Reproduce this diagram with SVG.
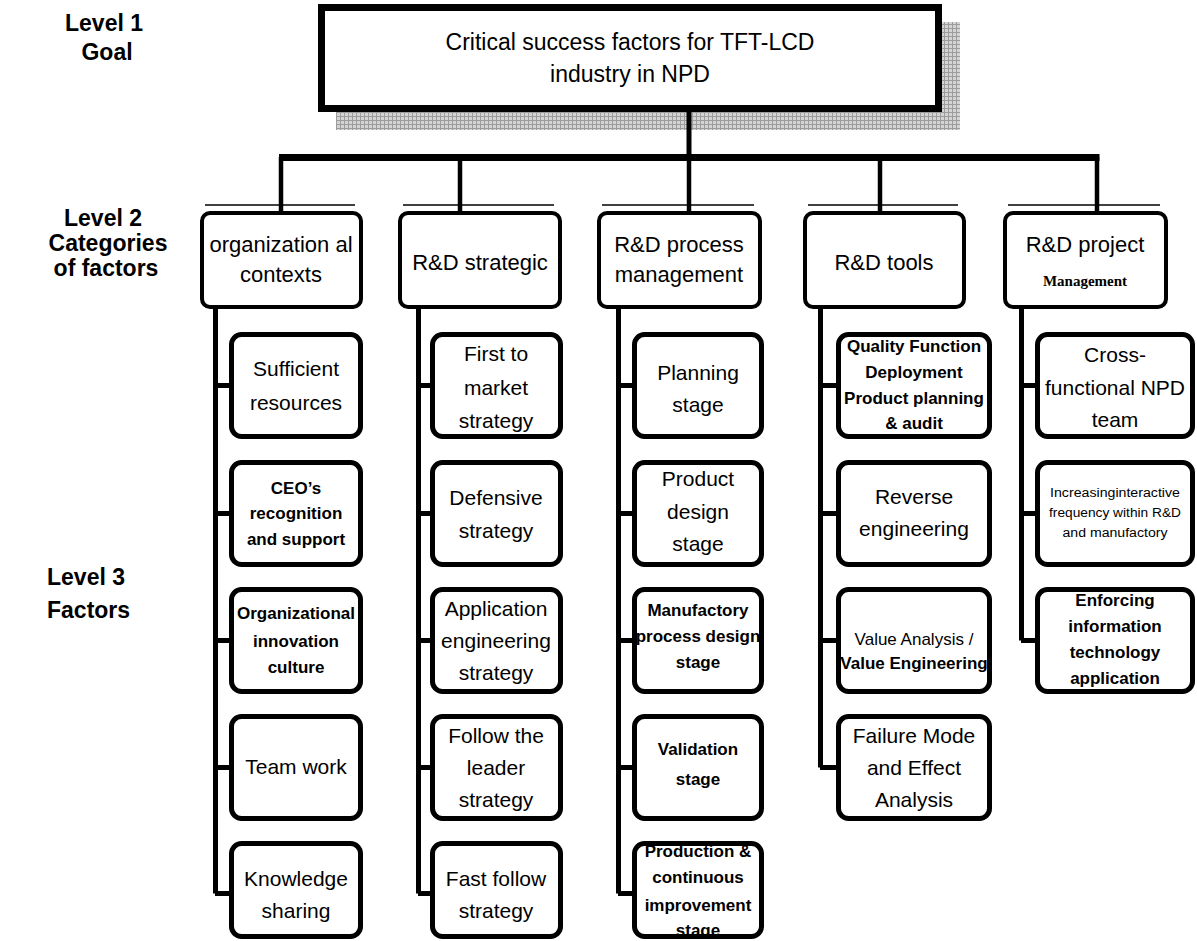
<svg xmlns="http://www.w3.org/2000/svg" width="1197" height="941" viewBox="0 0 1197 941">
<defs>
<pattern id="grid" width="4" height="4" patternUnits="userSpaceOnUse"><rect width="4" height="4" fill="#d4d4d4"/><path d="M0 0.5H4M0.5 0V4" stroke="#9c9c9c" stroke-width="1"/></pattern>
<style>
text{font-family:"Liberation Sans",Arial,sans-serif;fill:#000;text-anchor:middle}
.lbl{font-weight:bold;font-size:23px}
.goal{font-size:23px}
.l2{font-size:22px}
.l3{font-size:21px}
.sm{font-size:17px;font-weight:bold}
.tiny{font-size:12px}
.mg{font-family:"Liberation Serif","Times New Roman",serif;font-weight:bold;font-size:15px}
.b2{fill:#fff;stroke:#000;stroke-width:4}
.b3{fill:#fff;stroke:#000;stroke-width:5}
.thin{stroke:#000;stroke-width:1.3}
.cn{stroke:#000;fill:none}
</style>
</defs>
<rect width="1197" height="941" fill="#fff"/>

<g id="labels">
<text class="lbl" x="104" y="31">Level 1</text>
<text class="lbl" x="107" y="60">Goal</text>
<text class="lbl" x="103" y="226">Level 2</text>
<text class="lbl" x="108" y="251">Categories</text>
<text class="lbl" x="106" y="276">of factors</text>
<text class="lbl" x="47" y="585" style="text-anchor:start">Level 3</text>
<text class="lbl" x="47" y="618" style="text-anchor:start">Factors</text>
</g>

<g id="goal">
<rect x="336" y="22" width="624" height="108" fill="url(#grid)"/>
<rect x="321.5" y="7.5" width="617" height="101" fill="#fff" stroke="#000" stroke-width="7"/>
<text class="goal" x="630" y="50">Critical success factors for TFT-LCD</text>
<text class="goal" x="630" y="82">industry in NPD</text>
</g>

<g id="connectors">
<line class="cn" x1="689" y1="112" x2="689" y2="157" stroke-width="5"/>
<line class="cn" x1="279" y1="157.5" x2="1099.5" y2="157.5" stroke-width="7"/>
<line class="cn" x1="281" y1="157" x2="281" y2="211" stroke-width="4.5"/>
<line class="cn" x1="460" y1="157" x2="460" y2="211" stroke-width="4.5"/>
<line class="cn" x1="689" y1="157" x2="689" y2="211" stroke-width="4.5"/>
<line class="cn" x1="880" y1="157" x2="880" y2="211" stroke-width="4.5"/>
<line class="cn" x1="1097" y1="157" x2="1097" y2="211" stroke-width="4.5"/>
<path class="cn" stroke-width="5" d="M215.5 309V893.5M215 385.5H231M215 513.5H231M215 640.5H231M215 767.5H231M215 893.5H231"/>
<path class="cn" stroke-width="5" d="M418.5 309V893.5M418 385.5H432M418 513.5H432M418 640.5H432M418 767.5H432M418 893.5H432"/>
<path class="cn" stroke-width="5" d="M618.5 309V893.5M618 385.5H634M618 513.5H634M618 640.5H634M618 767.5H634M618 893.5H634"/>
<path class="cn" stroke-width="5" d="M820.5 309V767.5M820 385.5H838M820 513.5H838M820 640.5H838M820 767.5H838"/>
<path class="cn" stroke-width="5" d="M1021.5 309V640.5M1021 385.5H1037M1021 513.5H1037M1021 640.5H1037"/>
</g>

<g id="cat1">
<line class="thin" x1="205" y1="205" x2="355" y2="205"/>
<rect class="b2" x="202" y="213" width="159" height="94" rx="8"/>
<text class="l2" x="281" y="252">organization al</text>
<text class="l2" x="281" y="282">contexts</text>
</g>
<g id="cat2">
<line class="thin" x1="403" y1="205" x2="554" y2="205"/>
<rect class="b2" x="400" y="213" width="160" height="94" rx="8"/>
<text class="l2" x="480" y="270">R&amp;D strategic</text>
</g>
<g id="cat3">
<line class="thin" x1="602" y1="205" x2="754" y2="205"/>
<rect class="b2" x="599" y="213" width="161" height="94" rx="8"/>
<text class="l2" x="679" y="252">R&amp;D process</text>
<text class="l2" x="679" y="282">management</text>
</g>
<g id="cat4">
<line class="thin" x1="808" y1="205" x2="958" y2="205"/>
<rect class="b2" x="805" y="213" width="159" height="94" rx="8"/>
<text class="l2" x="884" y="270">R&amp;D tools</text>
</g>
<g id="cat5">
<line class="thin" x1="1008" y1="205" x2="1160" y2="205"/>
<rect class="b2" x="1005" y="213" width="161" height="94" rx="8"/>
<text class="l2" x="1085" y="252">R&amp;D project</text>
<text class="mg" x="1085" y="286">Management</text>
</g>

<!-- column 1 -->
<g id="f1-1"><rect class="b3" x="231.5" y="334.5" width="129" height="102" rx="10"/>
<text class="l3" x="296" y="376">Sufficient</text><text class="l3" x="296" y="410">resources</text></g>
<g id="f1-2"><rect class="b3" x="231.5" y="462.5" width="129" height="102" rx="10"/>
<text class="sm" x="296" y="494">CEO’s</text><text class="sm" x="296" y="519">recognition</text><text class="sm" x="296" y="545">and support</text></g>
<g id="f1-3"><rect class="b3" x="231.5" y="589.5" width="129" height="102" rx="10"/>
<text class="sm" x="296" y="619">Organizational</text><text class="sm" x="296" y="647">innovation</text><text class="sm" x="296" y="673">culture</text></g>
<g id="f1-4"><rect class="b3" x="231.5" y="716.5" width="129" height="102" rx="10"/>
<text class="l3" x="296" y="774">Team work</text></g>
<g id="f1-5"><rect class="b3" x="231.5" y="843.5" width="129" height="93" rx="10"/>
<text class="l3" x="296" y="886">Knowledge</text><text class="l3" x="296" y="918">sharing</text></g>

<!-- column 2 -->
<g id="f2-1"><rect class="b3" x="432.5" y="334.5" width="128" height="102" rx="10"/>
<text class="l3" x="496" y="361">First to</text><text class="l3" x="496" y="395">market</text><text class="l3" x="496" y="428">strategy</text></g>
<g id="f2-2"><rect class="b3" x="432.5" y="462.5" width="128" height="102" rx="10"/>
<text class="l3" x="496" y="505">Defensive</text><text class="l3" x="496" y="538">strategy</text></g>
<g id="f2-3"><rect class="b3" x="432.5" y="589.5" width="128" height="102" rx="10"/>
<text class="l3" x="496" y="616">Application</text><text class="l3" x="496" y="648">engineering</text><text class="l3" x="496" y="680">strategy</text></g>
<g id="f2-4"><rect class="b3" x="432.5" y="716.5" width="128" height="102" rx="10"/>
<text class="l3" x="496" y="743">Follow the</text><text class="l3" x="496" y="775">leader</text><text class="l3" x="496" y="807">strategy</text></g>
<g id="f2-5"><rect class="b3" x="432.5" y="843.5" width="128" height="93" rx="10"/>
<text class="l3" x="496" y="886">Fast follow</text><text class="l3" x="496" y="918">strategy</text></g>

<!-- column 3 -->
<g id="f3-1"><rect class="b3" x="634.5" y="334.5" width="127" height="102" rx="10"/>
<text class="l3" x="698" y="380">Planning</text><text class="l3" x="698" y="412">stage</text></g>
<g id="f3-2"><rect class="b3" x="634.5" y="462.5" width="127" height="102" rx="10"/>
<text class="l3" x="698" y="486">Product</text><text class="l3" x="698" y="519">design</text><text class="l3" x="698" y="551">stage</text></g>
<g id="f3-3"><rect class="b3" x="634.5" y="589.5" width="127" height="102" rx="10"/>
<text class="sm" x="698" y="616">Manufactory</text><text class="sm" x="698" y="642">process design</text><text class="sm" x="698" y="668">stage</text></g>
<g id="f3-4"><rect class="b3" x="634.5" y="716.5" width="127" height="102" rx="10"/>
<text class="sm" x="698" y="755">Validation</text><text class="sm" x="698" y="785">stage</text></g>
<g id="f3-5"><rect class="b3" x="634.5" y="843.5" width="127" height="93" rx="10"/>
<text class="sm" x="698" y="857">Production &amp;</text><text class="sm" x="698" y="883">continuous</text><text class="sm" x="698" y="911">improvement</text><text class="sm" x="698" y="936">stage</text></g>

<!-- column 4 -->
<g id="f4-1"><rect class="b3" x="838.5" y="334.5" width="151" height="102" rx="10"/>
<text class="sm" x="914" y="352">Quality Function</text><text class="sm" x="914" y="378">Deployment</text><text class="sm" x="914" y="404">Product planning</text><text class="sm" x="914" y="429">&amp; audit</text></g>
<g id="f4-2"><rect class="b3" x="838.5" y="462.5" width="151" height="102" rx="10"/>
<text class="l3" x="914" y="504">Reverse</text><text class="l3" x="914" y="536">engineering</text></g>
<g id="f4-3"><rect class="b3" x="838.5" y="589.5" width="151" height="102" rx="10"/>
<text class="sm" x="914" y="645" style="font-weight:normal">Value Analysis /</text><text class="sm" x="914" y="669">Value Engineering</text></g>
<g id="f4-4"><rect class="b3" x="838.5" y="716.5" width="151" height="102" rx="10"/>
<text class="l3" x="914" y="743">Failure Mode</text><text class="l3" x="914" y="775">and Effect</text><text class="l3" x="914" y="807">Analysis</text></g>

<!-- column 5 -->
<g id="f5-1"><rect class="b3" x="1037.5" y="334.5" width="155" height="102" rx="10"/>
<text class="l3" x="1115" y="362">Cross-</text><text class="l3" x="1115" y="395">functional NPD</text><text class="l3" x="1115" y="427">team</text></g>
<g id="f5-2"><rect class="b3" x="1037.5" y="462.5" width="155" height="102" rx="10"/>
<text class="tiny" x="1115" y="497" textLength="130" lengthAdjust="spacingAndGlyphs">Increasinginteractive</text><text class="tiny" x="1115" y="517" textLength="132" lengthAdjust="spacingAndGlyphs">frequency within R&amp;D</text><text class="tiny" x="1115" y="537" textLength="105" lengthAdjust="spacingAndGlyphs">and manufactory</text></g>
<g id="f5-3"><rect class="b3" x="1037.5" y="589.5" width="155" height="102" rx="10"/>
<text class="sm" x="1115" y="606">Enforcing</text><text class="sm" x="1115" y="632">information</text><text class="sm" x="1115" y="658">technology</text><text class="sm" x="1115" y="684">application</text></g>
</svg>
